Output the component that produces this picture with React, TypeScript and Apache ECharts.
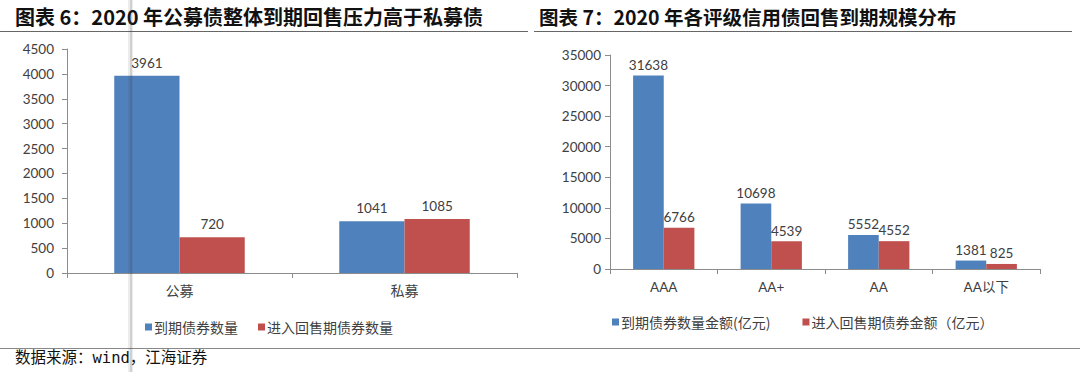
import React, { useEffect, useRef } from "react";
import * as echarts from "echarts";

const leftCategories = ["公募", "私募"];
const leftSeriesNames = ["到期债券数量", "进入回售期债券数量"];
const leftMaturity = [3961, 1041];
const leftPut = [720, 1085];
const leftTicks = { min: 0, max: 4500, interval: 500 };

const rightCategories = ["AAA", "AA+", "AA", "AA以下"];
const rightSeriesNames = ["到期债券数量金额(亿元)", "进入回售期债券金额（亿元）"];
const rightMaturity = [31638, 10698, 5552, 1381];
const rightPut = [6766, 4539, 4552, 825];
const rightTicks = { min: 0, max: 35000, interval: 5000 };

const leftTitle = "图表 6：2020 年公募债整体到期回售压力高于私募债";
const rightTitle = "图表 7：2020 年各评级信用债回售到期规模分布";
const sourceText = "数据来源：wind，江海证券";

const BLUE = "#4F81BD";
const RED = "#C0504D";
const TXT = "#404040";
const AXIS = "#8C8C8C";
const FONT = "Lato, 'Noto Sans CJK SC', sans-serif";
const CJK = "'Noto Sans CJK SC', sans-serif";

export default function App() {
  const ref = useRef<HTMLDivElement>(null);
  useEffect(() => {
    if (!ref.current) return;
    const chart = echarts.init(ref.current, undefined, { renderer: "svg" });
    const axisCommon = {
      axisLine: { show: true, lineStyle: { color: AXIS, width: 1 } },
      splitLine: { show: false },
    };
    const plain = (v: number) => String(v);
    const labelStyle = { show: true, position: "top", color: TXT, fontSize: 13.5, fontFamily: FONT, distance: 6 };
    chart.setOption({
      animation: false,
      backgroundColor: "#fff",
      textStyle: { fontFamily: FONT },
      grid: [
        { left: 67, right: 563, top: 49, bottom: 99, containLabel: false },
        { left: 610, right: 40, top: 55, bottom: 103, containLabel: false },
      ],
      xAxis: [
        {
          type: "category", gridIndex: 0, data: leftCategories, ...axisCommon,
          axisTick: { show: true, length: 5, alignWithLabel: false, lineStyle: { color: AXIS } },
          axisLabel: { color: TXT, fontSize: 14, fontFamily: CJK, margin: 10 },
        },
        {
          type: "category", gridIndex: 1, data: rightCategories, ...axisCommon,
          axisTick: { show: true, length: 5, alignWithLabel: false, lineStyle: { color: AXIS } },
          axisLabel: { color: TXT, fontSize: 13.5, fontFamily: FONT, margin: 11 },
        },
      ],
      yAxis: [
        {
          type: "value", gridIndex: 0, ...leftTicks, ...axisCommon,
          axisTick: { show: true, length: 5, inside: false, lineStyle: { color: AXIS } },
          axisLabel: { color: TXT, fontSize: 13.5, fontFamily: FONT, margin: 13, formatter: plain },
        },
        {
          type: "value", gridIndex: 1, ...rightTicks, ...axisCommon,
          axisTick: { show: true, length: 5, inside: false, lineStyle: { color: AXIS } },
          axisLabel: { color: TXT, fontSize: 13.5, fontFamily: FONT, margin: 9, formatter: plain },
        },
      ],
      legend: [
        {
          data: leftSeriesNames, left: 140, top: 315, icon: "rect", itemWidth: 7, itemHeight: 7,
          itemGap: 20, textStyle: { color: TXT, fontSize: 14, fontFamily: CJK, padding: [0, 0, 0, -3] },
        },
        {
          data: rightSeriesNames, left: 607, top: 310, icon: "rect", itemWidth: 7, itemHeight: 7,
          itemGap: 32, textStyle: { color: TXT, fontSize: 14, fontFamily: CJK, padding: [0, 0, 0, -3] },
        },
      ],
      series: [
        {
          name: leftSeriesNames[0], type: "bar", xAxisIndex: 0, yAxisIndex: 0, data: leftMaturity,
          itemStyle: { color: BLUE }, barGap: "0%", barCategoryGap: "42%", label: labelStyle,
        },
        {
          name: leftSeriesNames[1], type: "bar", xAxisIndex: 0, yAxisIndex: 0, data: leftPut,
          itemStyle: { color: RED }, barGap: "0%", barCategoryGap: "42%", label: labelStyle,
        },
        {
          name: rightSeriesNames[0], type: "bar", xAxisIndex: 1, yAxisIndex: 1, data: rightMaturity,
          itemStyle: { color: BLUE }, barGap: "0%", barCategoryGap: "43%", label: { ...labelStyle, distance: 4 },
        },
        {
          name: rightSeriesNames[1], type: "bar", xAxisIndex: 1, yAxisIndex: 1, data: rightPut,
          itemStyle: { color: RED }, barGap: "0%", barCategoryGap: "43%", label: { ...labelStyle, distance: 4 },
        },
      ],
      graphic: [
        {
          type: "text", left: 15, top: 5,
          style: { text: leftTitle, fontSize: 20, lineHeight: 22, fontWeight: "bold", fill: "#111", fontFamily: CJK },
        },
        {
          type: "text", left: 539, top: 5,
          style: { text: rightTitle, fontSize: 19.5, lineHeight: 22, fontWeight: "bold", fill: "#111", fontFamily: CJK },
        },
        {
          type: "line", shape: { x1: 0, y1: 31.5, x2: 528, y2: 31.5 },
          style: { stroke: "#666", lineWidth: 1 },
        },
        {
          type: "line", shape: { x1: 534, y1: 31.5, x2: 1072, y2: 31.5 },
          style: { stroke: "#666", lineWidth: 1 },
        },
        {
          type: "line", shape: { x1: 0, y1: 348.5, x2: 1080, y2: 348.5 },
          style: { stroke: "#888", lineWidth: 1.2 },
        },
        {
          type: "text", left: 15, top: 350,
          style: { text: sourceText, fontSize: 15.5, fill: "#111", fontFamily: "'DejaVu Sans Mono', 'Noto Sans CJK SC', monospace" },
        },
        {
          type: "rect", z: 100, shape: { x: 128, y: 0, width: 5, height: 372 },
          style: { fill: "rgba(70,70,70,0.10)" },
        },
        {
          type: "rect", z: 101, shape: { x: 130, y: 0, width: 2, height: 372 },
          style: { fill: "rgba(60,60,60,0.16)" },
        },
      ],
    });
    return () => chart.dispose();
  }, []);
  return (
    <div
      ref={ref}
      style={{ position: "fixed", left: 0, top: 0, width: 1080, height: 372, background: "#fff" }}
    />
  );
}
